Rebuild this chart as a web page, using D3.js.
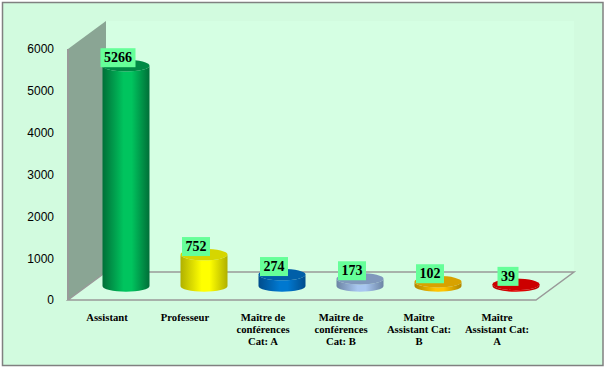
<!DOCTYPE html>
<html lang="fr">

<head>
    <meta charset="UTF-8">
    <title>Effectifs par grade</title>
    <script src="https://d3js.org/d3.v7.min.js"></script>
    <style>
        body { margin: 0; background: #fff; }
        svg { display: block; }
    </style>
</head>

<body>
    <script>
        // Data
        const categories = ['Assistant', 'Professeur', 'Maître de conférences Cat: A', 'Maître de conférences Cat: B', 'Maître Assistant Cat: B', 'Maître Assistant Cat: A'];
        const categoryLines = [['Assistant'], ['Professeur'], ['Maître de', 'conférences', 'Cat: A'], ['Maître de', 'conférences', 'Cat: B'], ['Maître', 'Assistant Cat:', 'B'], ['Maître', 'Assistant Cat:', 'A']];
        const values = [5266, 752, 274, 173, 102, 39];
        const yTicks = [0, 1000, 2000, 3000, 4000, 5000, 6000];
        // edge, middle, top of each cylinder
        const edgeColors = ['#006f38', '#b0b000', '#004c8c', '#6c84a4', '#b08600', '#b00000'];
        const midColors = ['#00c45e', '#ffff00', '#0078d0', '#a8c6f0', '#ffc400', '#e60000'];
        const topColors = ['#008a45', '#d6d600', '#005fa8', '#8098bc', '#d8a200', '#cc0000'];

        const width = 606;
        const height = 368;

        // 3D box of the plot
        const depthX = 38;
        const depthY = -28;
        const rx = 23.5;
        const ry = 5.8;

        const svg = d3.select('body')
            .append('svg')
            .attr('width', width)
            .attr('height', height);

        const x = d3.scaleBand()
            .domain(categories)
            .range([68, 536]);
        const y = d3.scaleLinear()
            .domain([0, 6000])
            .range([300, 49]);

        // Frame and back wall
        svg.append('rect')
            .attr('x', 2.5)
            .attr('y', 2.5)
            .attr('width', 600.5)
            .attr('height', 363)
            .attr('fill', '#d2fbdf')
            .attr('stroke', '#808080')
            .attr('stroke-width', 1.5);

        svg.append('rect')
            .attr('x', x.range()[0] + depthX)
            .attr('y', y(6000) + depthY)
            .attr('width', x.range()[1] - x.range()[0])
            .attr('height', y(0) - y(6000))
            .attr('fill', '#d5ffe3');

        // Side wall
        const x0 = x.range()[0];
        const x1 = x.range()[1];
        svg.append('path')
            .attr('d', `M${x0},${y(0)}L${x0},${y(6000)}L${x0 + depthX},${y(6000) + depthY}L${x0 + depthX},${y(0) + depthY}Z`)
            .attr('fill', '#8aa594');
        svg.append('path')
            .attr('d', `M${x0},${y(0)}L${x0},${y(6000)}`)
            .attr('fill', 'none')
            .attr('stroke', '#999')
            .attr('stroke-width', 2);

        // Floor
        svg.append('path')
            .attr('d', `M${x0},${y(0)}L${x1},${y(0)}L${x1 + depthX},${y(0) + depthY}L${x0 + depthX},${y(0) + depthY}Z`)
            .attr('fill', '#d5fce3')
            .attr('stroke', '#999')
            .attr('stroke-width', 1.5);

        // Gradients for the cylinder sides
        const defs = svg.append('defs');
        categories.forEach((c, i) => {
            const g = defs.append('linearGradient').attr('id', `side${i}`);
            g.append('stop').attr('offset', '0%').attr('stop-color', edgeColors[i]);
            g.append('stop').attr('offset', '45%').attr('stop-color', midColors[i]);
            g.append('stop').attr('offset', '62%').attr('stop-color', midColors[i]);
            g.append('stop').attr('offset', '100%').attr('stop-color', edgeColors[i]);
        });

        const cx = d => x(d) + x.bandwidth() / 2 + depthX / 2;
        const base = y(0) + depthY / 2;
        const barHeight = v => y(0) - y(v);

        // Cylinders
        const bars = svg.selectAll('.bar')
            .data(categories)
            .enter()
            .append('g')
            .attr('class', 'bar');

        bars.append('path')
            .attr('d', (d, i) => {
                const top = base - barHeight(values[i]);
                return `M${cx(d) - rx},${top}L${cx(d) - rx},${base}A${rx},${ry} 0 0 0 ${cx(d) + rx},${base}L${cx(d) + rx},${top}A${rx},${ry} 0 0 1 ${cx(d) - rx},${top}Z`;
            })
            .attr('fill', (d, i) => `url(#side${i})`);

        bars.append('ellipse')
            .attr('cx', d => cx(d))
            .attr('cy', (d, i) => base - barHeight(values[i]))
            .attr('rx', rx)
            .attr('ry', ry)
            .attr('fill', (d, i) => topColors[i]);

        // Value labels
        const valueLabels = svg.selectAll('.value')
            .data(categories)
            .enter()
            .append('g')
            .attr('class', 'value')
            .attr('transform', (d, i) => `translate(${cx(d) - 8},${base - barHeight(values[i]) - 8})`);

        valueLabels.append('text')
            .attr('text-anchor', 'middle')
            .attr('y', 4.5)
            .attr('font-family', '"Liberation Serif", serif')
            .attr('font-weight', 'bold')
            .attr('font-size', 14)
            .attr('fill', '#000')
            .text((d, i) => values[i]);

        valueLabels.insert('rect', 'text')
            .attr('x', (d, i) => -(String(values[i]).length * 7 + 7) / 2)
            .attr('y', -9.5)
            .attr('width', (d, i) => String(values[i]).length * 7 + 7)
            .attr('height', 19)
            .attr('fill', '#66ff99');

        // Axes
        const yAxis = svg.append('g')
            .attr('transform', 'translate(54,0)')
            .call(d3.axisLeft(y).tickValues(yTicks).tickSize(0).tickPadding(0).tickFormat(d3.format('d')));
        yAxis.select('.domain').remove();
        yAxis.selectAll('text')
            .attr('font-family', '"Liberation Sans", sans-serif')
            .attr('font-size', 12)
            .attr('fill', '#000');

        const xAxis = svg.append('g')
            .attr('transform', `translate(0,${y(0)})`)
            .call(d3.axisBottom(x).tickSize(0));
        xAxis.select('.domain').remove();
        xAxis.selectAll('text')
            .attr('font-family', '"Liberation Serif", serif')
            .attr('font-weight', 'bold')
            .attr('font-size', 10.67)
            .attr('fill', '#000')
            .attr('dy', null)
            .attr('y', 21)
            .text(null)
            .each(function (d, i) {
                d3.select(this).selectAll('tspan')
                    .data(categoryLines[i])
                    .enter()
                    .append('tspan')
                    .attr('x', 0)
                    .attr('dy', (l, k) => k === 0 ? 0 : 12)
                    .text(l => l);
            });
    </script>
</body>

</html>
